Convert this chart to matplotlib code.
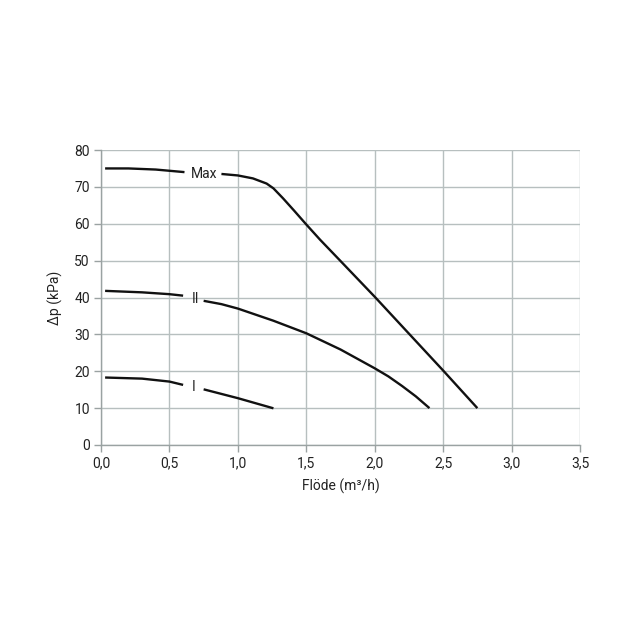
import matplotlib
matplotlib.use("Agg")
import matplotlib.pyplot as plt

# Data
max_left_x = [0.03, 0.20, 0.40, 0.61]
max_left_y = [75.0, 75.0, 74.7, 74.0]
max_right_x = [0.88, 1.00, 1.11, 1.21, 1.26, 1.33, 1.41, 1.50, 1.60, 1.75, 2.00, 2.25, 2.50, 2.75]
max_right_y = [73.5, 73.1, 72.3, 70.9, 69.6, 66.9, 63.6, 59.8, 55.7, 49.9, 40.2, 30.2, 20.2, 10.0]

ii_left_x = [0.03, 0.30, 0.50, 0.60]
ii_left_y = [41.8, 41.4, 40.9, 40.5]
ii_right_x = [0.75, 0.88, 1.00, 1.26, 1.50, 1.75, 2.00, 2.10, 2.20, 2.30, 2.40]
ii_right_y = [39.1, 38.2, 37.0, 33.7, 30.3, 25.9, 20.8, 18.6, 16.0, 13.2, 10.0]

i_left_x = [0.03, 0.30, 0.50, 0.60]
i_left_y = [18.3, 18.0, 17.2, 16.3]
i_right_x = [0.75, 1.00, 1.26]
i_right_y = [15.1, 12.7, 9.95]

labels = ["Max", "II", "I"]
label_x = [0.75, 0.69, 0.68]
label_y = [73.4, 39.7, 15.6]

x_ticks = [0.0, 0.5, 1.0, 1.5, 2.0, 2.5, 3.0, 3.5]
x_tick_labels = ["0,0", "0,5", "1,0", "1,5", "2,0", "2,5", "3,0", "3,5"]
y_ticks = [0, 10, 20, 30, 40, 50, 60, 70, 80]

plt.rcParams['font.family'] = ['Roboto', 'DejaVu Sans']

fig = plt.figure(figsize=(6.4, 6.4), dpi=100)
ax = fig.add_axes([101/640, 1 - 445/640, (580-101)/640, (445-150)/640])

lc = '#111111'
lw = 1.7
for xs, ys in [(max_left_x, max_left_y), (max_right_x, max_right_y),
               (ii_left_x, ii_left_y), (ii_right_x, ii_right_y),
               (i_left_x, i_left_y), (i_right_x, i_right_y)]:
    ax.plot(xs, ys, color=lc, lw=lw, solid_capstyle='butt', solid_joinstyle='round', zorder=3)

for t, x, y in zip(labels, label_x, label_y):
    ax.text(x, y, t, ha='center', va='center', fontsize=10, color='#222222', zorder=4)

ax.set_xlim(0, 3.5)
ax.set_ylim(0, 80)
ax.set_xticks(x_ticks)
ax.set_xticklabels(x_tick_labels)
ax.set_yticks(y_ticks)

gc = '#b7bfbf'
ax.grid(True, color=gc, lw=1.0)
ax.set_axisbelow(True)
for s in ['top', 'right']:
    ax.spines[s].set_visible(False)
for s in ['left', 'bottom']:
    ax.spines[s].set_color('#9aa2a2')
    ax.spines[s].set_linewidth(1.0)
ax.tick_params(axis='both', colors='#9aa2a2', length=5, width=1.0,
               labelcolor='#222222', labelsize=10, pad=3)

ax.set_xlabel("Flöde (m³/h)", fontsize=10, color='#222222', labelpad=6)
ax.set_ylabel("Δp (kPa)", fontsize=10, color='#222222', labelpad=8)

fig.savefig("out.png", dpi=100, facecolor='white')
